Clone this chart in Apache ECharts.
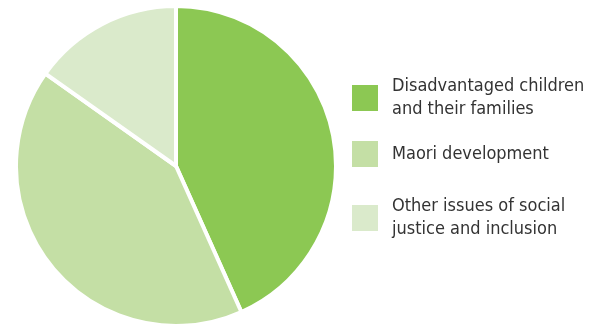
<!DOCTYPE html>
<html>
<head>
<meta charset="utf-8">
<script src="https://cdn.jsdelivr.net/npm/echarts@6/dist/echarts.min.js"></script>
<style>html,body{margin:0;padding:0;background:#fff}#c{width:591px;height:326px}</style>
</head>
<body>
<div id="c"></div>
<script>
const categories = ['Disadvantaged children\nand their families', 'Maori development', 'Other issues of social\njustice and inclusion'];
const values = [43.3, 41.5, 15.2];
const colors = ['#8CC853', '#C4DFA5', '#DAEACB'];

const chart = echarts.init(document.getElementById('c'), null, {renderer: 'canvas'});
const legendTops = [75, 139, 195];
const legends = categories.map((name, i) => ({
  data: [name],
  left: 350,
  top: legendTops[i],
  orient: 'vertical',
  icon: 'rect',
  itemWidth: 28,
  itemHeight: 28,
  itemGap: 10,
  padding: 0,
  selectedMode: false,
  textStyle: {fontFamily: 'DejaVu Sans Condensed', fontSize: 18, lineHeight: 23, color: '#333333', padding: [0, 0, 0, 8]}
}));
chart.setOption({
  animation: false,
  color: colors,
  legend: legends,
  series: [{
    type: 'pie',
    center: [176, 166],
    radius: 160,
    startAngle: 90,
    clockwise: true,
    label: {show: false},
    labelLine: {show: false},
    itemStyle: {borderColor: '#ffffff', borderWidth: 4},
    emphasis: {disabled: true},
    data: categories.map((n, i) => ({name: n, value: values[i]}))
  }]
});
</script>
</body>
</html>
